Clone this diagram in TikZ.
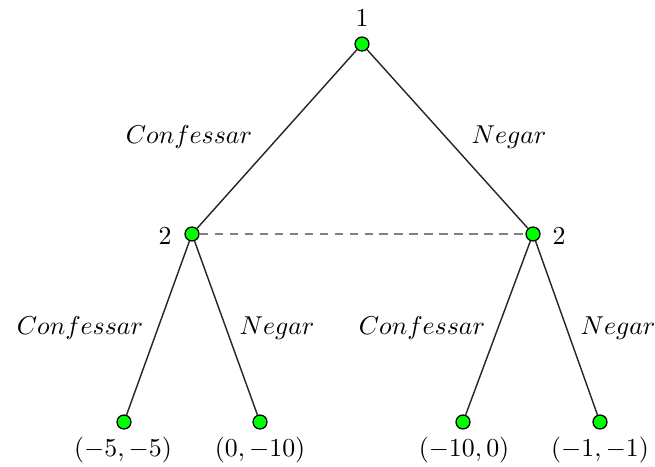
\documentclass[tikz,border=0pt]{standalone}
\usepackage{amsmath}
\usetikzlibrary{calc}

\begin{document}
\begin{tikzpicture}[x=1.36cm,y=1.36cm,>=stealth]
			\tikzset{no/.style={circle,draw=black,fill=green,inner sep=0pt,minimum size=5.4pt,line width=0.5pt},
				ar/.style={line width=0.55pt,draw=black!85}}
			\useasboundingbox (0,0) rectangle (6.55,4.66);
			
			\node[no] (r) at (3.62,4.22) {};
			\node[no] (a) at (1.92,2.32) {};
			\node[no] (b) at (5.33,2.32) {};
			\node[no] (a1) at (1.24,0.44) {};
			\node[no] (a2) at (2.60,0.44) {};
			\node[no] (b1) at (4.63,0.44) {};
			\node[no] (b2) at (6.00,0.44) {};
			
			\draw[ar] (r) -- (a);
			\draw[ar] (r) -- (b);
			\draw[ar] (a) -- (a1);
			\draw[ar] (a) -- (a2);
			\draw[ar] (b) -- (b1);
			\draw[ar] (b) -- (b2);
			\draw[line width=0.9pt,gray,dash pattern=on 3.2pt off 2.6pt] (a) -- (b);
			
			\node (t1) at (3.62,4.48) {$1$};
			\node (t2) at (1.65,2.30) {$2$};
			\node (t3) at (5.59,2.30) {$2$};
			
			\node (e1) at (1.89,3.29) {$Confessar$};
			\node (e2) at (5.09,3.29) {$Negar$};
			\node (e3) at (0.80,1.38) {$Confessar$};
			\node (e4) at (2.77,1.38) {$Negar$};
			\node (e5) at (4.22,1.38) {$Confessar$};
			\node (e6) at (6.18,1.38) {$Negar$};
			
			\node (p1) at (1.23,0.16) {$(-5,-5)$};
			\node (p2) at (2.60,0.16) {$(0,-10)$};
			\node (p3) at (4.64,0.16) {$(-10,0)$};
			\node (p4) at (6.00,0.16) {$(-1,-1)$};
		\end{tikzpicture}
\end{document}
